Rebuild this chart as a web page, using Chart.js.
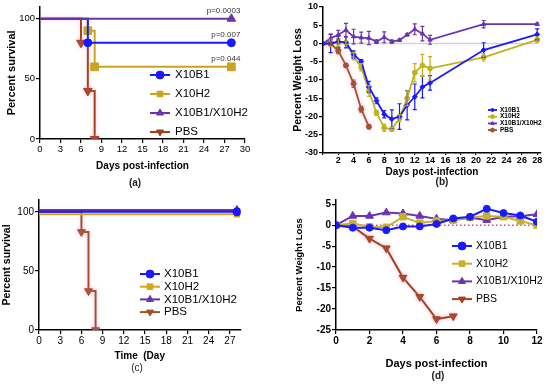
<!DOCTYPE html>
<html>
<head>
<meta charset="utf-8">
<script src="https://cdn.jsdelivr.net/npm/chart.js@4.4.1/dist/chart.umd.min.js"></script>
<style>
  body { margin: 0; background: #fff; }
  #wrap { position: relative; width: 550px; height: 386px; }
  #wrap canvas { position: absolute; }
</style>
</head>
<body>
<div id="wrap">
  <canvas id="chartA" width="275" height="193" style="left:0;top:0"></canvas>
  <canvas id="chartB" width="275" height="193" style="left:275px;top:0"></canvas>
  <canvas id="chartC" width="275" height="193" style="left:0;top:193px"></canvas>
  <canvas id="chartD" width="275" height="193" style="left:275px;top:193px"></canvas>
</div>
<script>
// ---- data ----
const groups = ['X10B1', 'X10H2', 'X10B1/X10H2', 'PBS'];

// (a) survival, experiment 1
const daysA = [[0, 7, 28], [0, 7, 8, 28], [0, 28], [0, 6, 7, 8]];
const survA = [[100, 80, 80], [100, 90, 60, 60], [100, 100], [100, 80, 40, 0]];
const pValuesA = ['p=0.007', 'p=0.044', 'p=0.0003'];

// (b) weight, experiment 1
const daysB = [0, 1, 2, 3, 4, 5, 6, 7, 8, 9, 10, 11, 12, 13, 14, 21, 28];
const daysB_PBS = [0, 1, 2, 3, 4, 5, 6];
const weightB_B1 = [0, 0, 0.5, 0.3, -3, -4.9, -11.9, -15.7, -19.4, -20.7, -20, -16.9, -14.6, -11.9, -10.8, -1.8, 2.5];
const errB_B1 = [0, 2.5, 1.5, 1.5, 1, 0.5, 1.5, 0.8, 1, 2.5, 3.5, 4, 3.5, 3, 2, 2, 1.5];
const weightB_H2 = [0, 0.2, 0.3, 0.2, -3.5, -6.5, -13, -19, -23.1, -23.5, -20.5, -15, -8, -6, -6.8, -3.8, 1];
const errB_H2 = [0, 1, 1, 0.5, 1, 1, 1.5, 0.7, 1, 0.5, 1, 2, 2.5, 3, 3.2, 1, 0.8];
const weightB_Mix = [0, 1.4, 2.4, 3.7, 1.9, 1.6, 1.5, 0.5, 1.7, 0.5, 0.9, 2.4, 3.9, 2.7, 1, 5.3, 5.3];
const errB_Mix = [0, 1.2, 1.2, 1.8, 2, 1.5, 1.8, 0.5, 1.5, 0.4, 0.3, 0.3, 1.5, 2, 1.2, 1, 0.3];
const weightB_PBS = [0, 0, -2, -6, -11, -18, -22.8];
const errB_PBS = [0, 0.5, 0.8, 0.5, 1, 0.8, 0.5];

// (c) survival, experiment 2
const daysC = [[0, 28], [0, 28], [0, 28], [0, 6, 7, 8]];
const survC = [[100, 100], [98, 98], [101.5, 101.5], [100, 83, 33, 0]];

// (d) weight, experiment 2
const daysD = [0, 1, 2, 3, 4, 5, 6, 7, 8, 9, 10, 11, 12];
const daysD_PBS = [0, 1, 2, 3, 4, 5, 6, 7];
const weightD_B1 = [0, -0.6, -0.6, -1.2, -0.3, -0.3, 0.3, 1.6, 2, 3.9, 2.9, 2.3, 0.8];
const weightD_H2 = [0, 0.4, -0.4, -0.5, 2, 0.5, 1, 1.2, 1.8, 2.2, 2, 1, 0];
const weightD_Mix = [0, 2.2, 2.2, 3, 2.8, 2.2, 1.5, 1.2, 1.8, 1.2, 2, 2.1, 2.6];
const weightD_PBS = [0, -0.3, -3.2, -5.5, -12.5, -17.1, -22.4, -21.7];

const xy = (xs, ys) => xs.map((x, i) => ({ x: x, y: ys[i] }));

Chart.defaults.font.family = "'Liberation Sans', Arial, sans-serif";
Chart.defaults.color = '#000';
Chart.defaults.animation = false;
Chart.defaults.events = [];
Chart.defaults.plugins.legend.display = false;
Chart.defaults.plugins.tooltip.enabled = false;

const PINK = 'rgba(245,130,200,0.45)';

// ---- plugins ----
function drawMarker(ctx, style, r, rot, x, y) {
  if (Chart.helpers && Chart.helpers.drawPoint) {
    Chart.helpers.drawPoint(ctx, { pointStyle: style, radius: r, rotation: rot || 0, borderWidth: 1 }, x, y);
  } else {
    ctx.beginPath(); ctx.arc(x, y, r, 0, Math.PI * 2); ctx.fill();
  }
}

const lineLegend = {
  id: 'lineLegend',
  afterDraw(chart, args, o) {
    const ctx = chart.ctx;
    ctx.save();
    ctx.font = o.font;
    ctx.textBaseline = 'middle';
    ctx.textAlign = 'left';
    let row = 0;
    chart.data.datasets.forEach(ds => {
      if (!ds.label) return;
      const y = o.y + row * o.rowH;
      row++;
      ctx.strokeStyle = ds.borderColor;
      ctx.lineWidth = ds.borderWidth;
      ctx.beginPath(); ctx.moveTo(o.x, y); ctx.lineTo(o.x + o.lineW, y); ctx.stroke();
      ctx.fillStyle = ds.borderColor;
      ctx.lineWidth = 1;
      drawMarker(ctx, ds.pointStyle, o.r, ds.pointRotation, o.x + o.lineW / 2, y);
      ctx.fillStyle = '#000';
      ctx.fillText(ds.label, o.x + o.lineW + o.gap, y);
    });
    ctx.restore();
  }
};

const errorBars = {
  id: 'errorBars',
  afterDatasetsDraw(chart) {
    const ctx = chart.ctx, xs = chart.scales.x, ys = chart.scales.y;
    chart.data.datasets.forEach(ds => {
      if (!ds.errors) return;
      ctx.save();
      ctx.strokeStyle = ds.borderColor;
      ctx.lineWidth = 1.2;
      ds.data.forEach((p, j) => {
        const e = ds.errors[j];
        if (!e) return;
        const x = xs.getPixelForValue(p.x);
        const y1 = ys.getPixelForValue(p.y - e), y2 = ys.getPixelForValue(p.y + e);
        ctx.beginPath();
        ctx.moveTo(x, y1); ctx.lineTo(x, y2);
        ctx.moveTo(x - 2, y1); ctx.lineTo(x + 2, y1);
        ctx.moveTo(x - 2, y2); ctx.lineTo(x + 2, y2);
        ctx.stroke();
      });
      ctx.restore();
    });
  }
};

const glow = {
  id: 'glow',
  beforeDatasetDraw(chart, args) {
    const ds = chart.data.datasets[args.index];
    if (!ds.glow) return;
    chart.ctx.save();
    chart.ctx.shadowColor = ds.glow;
    chart.ctx.shadowBlur = 4;
  },
  afterDatasetDraw(chart, args) {
    if (chart.data.datasets[args.index].glow) chart.ctx.restore();
  }
};

const notes = {
  id: 'notes',
  afterDraw(chart, args, o) {
    const ctx = chart.ctx;
    ctx.save();
    ctx.textBaseline = 'middle';
    (o.items || []).forEach(n => {
      let x = n.x, y = n.y;
      if (n.data) {
        x = chart.scales.x.getPixelForValue(n.x) + n.dx;
        y = chart.scales.y.getPixelForValue(n.y) + n.dy;
      }
      ctx.font = n.font;
      ctx.fillStyle = n.color || '#000';
      ctx.textAlign = n.align || 'center';
      ctx.fillText(n.text, x, y);
    });
    ctx.restore();
  }
};

const plugins = [lineLegend, errorBars, glow, notes];

function axis(extra) {
  return Object.assign({
    type: 'linear',
    grid: { drawOnChartArea: false, drawTicks: true, tickLength: 4, color: '#000', lineWidth: 1.2 },
    border: { color: '#000', width: 1.5 }
  }, extra);
}

function tickOpts(size, bold, step, extra) {
  return Object.assign({
    color: '#000', font: { size: size, weight: bold ? 'bold' : 'normal' }, stepSize: step,
    padding: 1, includeBounds: false, autoSkip: false, maxRotation: 0
  }, extra);
}

function axisTitle(text, size) {
  return { display: true, text: text, color: '#000', padding: 0, font: { size: size, weight: 'bold' } };
}

// ---- (a) ----
const colA = ['#1a1aff', '#c9a420', '#6a35a8', '#a5421e'];
const styleA = ['circle', 'rect', 'triangle', 'triangle'];
const rotA = [0, 0, 0, 180];
const radA = [4, 5.5, 5, 5];

new Chart(document.getElementById('chartA'), {
  type: 'line',
  data: {
    datasets: groups.map((g, i) => ({
      label: g,
      data: xy(daysA[i], survA[i]),
      borderColor: colA[i],
      backgroundColor: colA[i],
      borderWidth: 2,
      stepped: 'before',
      pointStyle: styleA[i],
      pointRotation: rotA[i],
      pointRadius: daysA[i].map((d, j) => j === 0 ? 0 : radA[i]),
      pointBorderWidth: 1,
      order: i === 2 ? 0 : 1,
      glow: i === 3 ? PINK : null
    }))
  },
  options: {
    responsive: false,
    layout: { padding: { left: 5, top: 4, right: 30, bottom: 21 } },
    scales: {
      x: axis({
        min: 0, max: 30,
        ticks: tickOpts(9.5, false, 3),
        title: axisTitle('Days post-infection', 10),
        afterFit: s => { s.height = 33; }
      }),
      y: axis({
        min: 0, max: 110,
        ticks: tickOpts(9.5, false, 50),
        title: axisTitle('Percent survival', 11),
        afterFit: s => { s.width = 35; }
      })
    },
    plugins: {
      lineLegend: { x: 150, y: 75, rowH: 19, lineW: 20, gap: 5, r: 4, font: '11.5px "Liberation Sans", Arial' },
      notes: {
        items: [
          { text: pValuesA[0], data: true, x: daysA[0][2], y: survA[0][2], dx: 9, dy: -8, align: 'right', font: '8px "Liberation Sans", Arial', color: '#333' },
          { text: pValuesA[1], data: true, x: daysA[1][3], y: survA[1][3], dx: 9, dy: -8, align: 'right', font: '8px "Liberation Sans", Arial', color: '#333' },
          { text: pValuesA[2], data: true, x: daysA[2][1], y: survA[2][1], dx: 9, dy: -8, align: 'right', font: '8px "Liberation Sans", Arial', color: '#333' },
          { text: '(a)', x: 135, y: 183, font: 'bold 10px "Liberation Sans", Arial', color: '#222' }
        ]
      }
    }
  },
  plugins: plugins
});

// ---- (b) ----
const colB = ['#1a1aff', '#c2b21e', '#6a35b0', '#a0522d'];
const styleB = ['rectRot', 'circle', 'triangle', 'circle'];

new Chart(document.getElementById('chartB'), {
  type: 'line',
  data: {
    datasets: [
      { label: groups[0], data: xy(daysB, weightB_B1), errors: errB_B1 },
      { label: groups[1], data: xy(daysB, weightB_H2), errors: errB_H2 },
      { label: groups[2], data: xy(daysB, weightB_Mix), errors: errB_Mix },
      { label: groups[3], data: xy(daysB_PBS, weightB_PBS), errors: errB_PBS, glow: PINK }
    ].map((ds, i) => Object.assign(ds, {
      borderColor: colB[i], backgroundColor: colB[i], borderWidth: 1.8,
      pointStyle: styleB[i], pointRadius: 2.5, pointBorderWidth: 1, order: 1
    })).concat([{
      data: xy([0, 28], [0, 0]), borderColor: '#d4d4d4', borderWidth: 1.5, pointRadius: 0, order: 10
    }])
  },
  options: {
    responsive: false,
    layout: { padding: { left: 17, top: 7, right: 9, bottom: 15 } },
    scales: {
      x: axis({
        min: 0, max: 28.5,
        grid: { drawOnChartArea: false, tickLength: 2, color: '#000', lineWidth: 1.2 },
        ticks: tickOpts(9, true, 2, { padding: 0, callback: v => v === 0 ? '' : v }),
        title: axisTitle('Days post-infection', 10),
        afterFit: s => { s.height = 25; }
      }),
      y: axis({
        min: -30, max: 10,
        ticks: tickOpts(9, true, 5),
        title: axisTitle('Percent Weight Loss', 10.5),
        afterFit: s => { s.width = 31; }
      })
    },
    plugins: {
      lineLegend: { x: 213, y: 110, rowH: 6.7, lineW: 9, gap: 3, r: 2, font: 'bold 6.5px "Liberation Sans", Arial' },
      notes: { items: [{ text: '(b)', x: 167, y: 182, font: 'bold 10px "Liberation Sans", Arial', color: '#222' }] }
    }
  },
  plugins: plugins
});

// ---- (c) ----
const colC = ['#1a1aff', '#d2a81c', '#6a35a8', '#a0522d'];
const radC = [4, 4, 4.5, 4.5];

new Chart(document.getElementById('chartC'), {
  type: 'line',
  data: {
    datasets: groups.map((g, i) => ({
      label: g,
      data: xy(daysC[i], survC[i]),
      borderColor: colC[i],
      backgroundColor: colC[i],
      borderWidth: 2,
      stepped: 'before',
      pointStyle: styleA[i],
      pointRotation: rotA[i],
      pointRadius: daysC[i].map((d, j) => j === 0 ? 0 : radC[i]),
      pointBorderWidth: 1,
      order: i === 0 ? 0 : 1,
      glow: i === 3 ? PINK : null
    }))
  },
  options: {
    responsive: false,
    layout: { padding: { left: 1, top: 4, right: 34.5, bottom: 24 } },
    scales: {
      x: axis({
        min: 0, max: 28.5,
        ticks: tickOpts(10, false, 3),
        title: axisTitle('Time  (Day', 10),
        afterFit: s => { s.height = 32; }
      }),
      y: axis({
        min: 0, max: 110,
        ticks: tickOpts(10, false, 50),
        title: axisTitle('Percent survival', 10.5),
        afterFit: s => { s.width = 38; }
      })
    },
    plugins: {
      lineLegend: { x: 140, y: 81, rowH: 12.7, lineW: 20, gap: 4, r: 4, font: '11.5px "Liberation Sans", Arial' },
      notes: { items: [{ text: '(c)', x: 137, y: 175, font: '10px "Liberation Sans", Arial', color: '#222' }] }
    }
  },
  plugins: plugins
});

// ---- (d) ----
const colD = ['#1a1aff', '#c8b02a', '#6a35b0', '#a0441c'];
const radD = [3.5, 4.5, 4.5, 4.5];

new Chart(document.getElementById('chartD'), {
  type: 'line',
  data: {
    datasets: [
      { label: groups[0], data: xy(daysD, weightD_B1) },
      { label: groups[1], data: xy(daysD, weightD_H2) },
      { label: groups[2], data: xy(daysD, weightD_Mix) },
      { label: groups[3], data: xy(daysD_PBS, weightD_PBS), glow: PINK }
    ].map((ds, i) => Object.assign(ds, {
      borderColor: colD[i], backgroundColor: colD[i], borderWidth: 2,
      pointStyle: styleA[i], pointRotation: rotA[i], pointRadius: radD[i], pointBorderWidth: 1, order: 1
    })).concat([{
      data: xy([0, 12], [0, 0]), borderColor: '#d04a70', borderWidth: 1.5, borderDash: [1.5, 2.5], pointRadius: 0, order: 10
    }])
  },
  options: {
    responsive: false,
    layout: { padding: { left: 19, top: 4, right: 13, bottom: 15 } },
    scales: {
      x: axis({
        min: 0, max: 12,
        ticks: tickOpts(10, true, 2),
        title: axisTitle('Days post-infection', 11),
        afterFit: s => { s.height = 41; }
      }),
      y: axis({
        min: -25, max: 6,
        ticks: tickOpts(10, true, 5),
        title: axisTitle('Percent Weight Loss', 9.5),
        afterFit: s => { s.width = 42; }
      })
    },
    plugins: {
      lineLegend: { x: 177, y: 53, rowH: 17.7, lineW: 20, gap: 4, r: 4, font: '10.5px "Liberation Sans", Arial' },
      notes: { items: [{ text: '(d)', x: 163, y: 183, font: 'bold 10px "Liberation Sans", Arial', color: '#222' }] }
    }
  },
  plugins: plugins
});
</script>
</body>
</html>
